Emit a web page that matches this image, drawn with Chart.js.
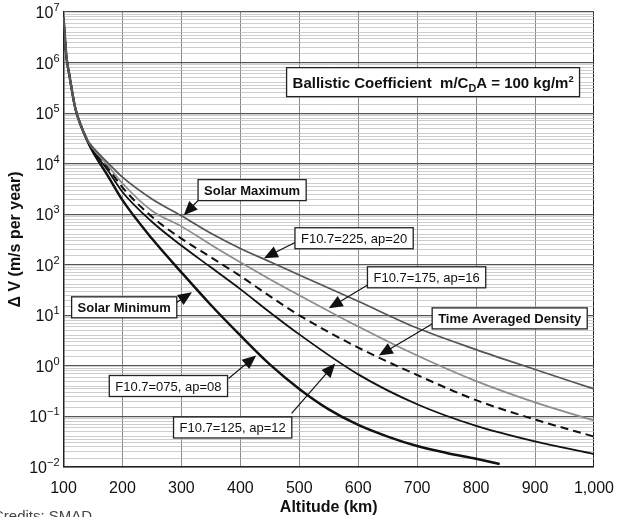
<!DOCTYPE html>
<html>
<head>
<meta charset="utf-8">
<script src="https://cdn.jsdelivr.net/npm/chart.js@4.4.0/dist/chart.umd.min.js"></script>
<style>
  html, body { margin: 0; padding: 0; background: #fff; overflow: hidden; }
  #wrap { position: relative; width: 626px; height: 517px; }
  #credits { position: absolute; left: -7px; top: 507px; font: 15px "Liberation Sans", Arial, sans-serif; color: #444; white-space: nowrap; }
</style>
</head>
<body>
<div id="wrap"><canvas id="c"></canvas><div id="credits">Credits: SMAD</div></div>
<script>
// altitude (km) and delta-V needed per year (m/s)
const altitudes = [100, 105, 110, 120, 130, 140, 150, 175, 200, 250, 300, 350, 400, 450, 500, 600, 700, 800, 900, 1000];
const solarMax225 = [7.9e6, 1.3e6, 5.6e5, 1.25e5, 5.5e4, 3.0e4, 2.1e4, 1.05e4, 5.4e3, 2.0e3, 930, 420, 210, 115, 63, 19, 5.6, 2.1, 0.85, 0.35];
const f175 = [7.9e6, 1.3e6, 5.6e5, 1.25e5, 5.5e4, 3.0e4, 2.0e4, 9.3e3, 4.1e3, 1.17e3, 575, 250, 112, 52, 25, 6.0, 1.6, 0.5, 0.19, 0.083];
const timeAveraged = [7.9e6, 1.3e6, 5.6e5, 1.25e5, 5.5e4, 3.0e4, 1.9e4, 8.4e3, 3.4e3, 890, 330, 141, 60, 24, 10, 2.3, 0.66, 0.21, 0.087, 0.04];
const f125 = [7.9e6, 1.3e6, 5.6e5, 1.25e5, 5.5e4, 2.95e4, 1.85e4, 7.4e3, 2.75e3, 710, 240, 89, 33, 11.5, 4.2, 0.68, 0.174, 0.065, 0.032, 0.018];
const altitudesLow = [100, 105, 110, 120, 130, 140, 150, 175, 200, 250, 300, 350, 400, 450, 500, 550, 600, 650, 700, 750, 800, 840];
const solarMin075 = [7.9e6, 1.3e6, 5.6e5, 1.25e5, 5.5e4, 2.9e4, 1.7e4, 5.8e3, 1.9e3, 330, 71, 16, 4.0, 1.07, 0.35, 0.138, 0.068, 0.040, 0.026, 0.019, 0.0145, 0.0115];

const xTicks = [100, 200, 300, 400, 500, 600, 700, 800, 900, 1000];
const yDecades = [1e-2, 1e-1, 1, 10, 100, 1e3, 1e4, 1e5, 1e6, 1e7];
const minorSteps = [1, 1.5, 2, 2.5, 3, 3.5, 4, 5, 6, 7, 8, 9];

const FONT = '"Liberation Sans", Arial, Helvetica, sans-serif';

const notes = [
  { parts: [{ t: 'Ballistic Coefficient  m/C' }, { t: 'D', s: 0.72, dy: 4 }, { t: 'A = 100 kg/m' }, { t: '2', s: 0.62, dy: -6 }],
    size: 15, bold: true, h: 29, at: [727, 4.1e5] },
  { parts: [{ t: 'Solar Maximum' }], bold: true, at: [420, 3.0e3], from: [329, 1.9e3], tip: [304, 955] },
  { parts: [{ t: 'F10.7=225, ap=20' }], at: [593, 335], from: [497, 292], tip: [440, 135] },
  { parts: [{ t: 'F10.7=175, ap=16' }], at: [716, 56.5], from: [618, 41], tip: [550, 13.8] },
  { parts: [{ t: 'Time Averaged Density' }], bold: true, at: [857, 8.7], from: [741, 8.7], tip: [635, 1.6] },
  { parts: [{ t: 'Solar Minimum' }], bold: true, at: [203, 14.4], from: [292, 18], tip: [318, 28.5] },
  { parts: [{ t: 'F10.7=075, ap=08' }], at: [278, 0.40], from: [380, 0.565], tip: [427, 1.6] },
  { parts: [{ t: 'F10.7=125, ap=12' }], at: [387, 0.0605], from: [487, 0.115], tip: [561, 1.12] }
];

function isDecade(v) {
  const l = Math.log10(v);
  return Math.abs(l - Math.round(l)) < 1e-6;
}

const gridTicks = [];
yDecades.forEach(d => {
  if (d === 1e7) { gridTicks.push(d); return; }
  minorSteps.forEach(m => gridTicks.push(m * d));
});

function pts(xs, ys) {
  return xs.map((a, i) => ({ x: a, y: ys[i] }));
}

const noteLayer = {
  id: 'noteLayer',
  afterDatasetsDraw(chart) {
    const { ctx, scales: { x, y } } = chart;
    const px = p => [x.getPixelForValue(p[0]), y.getPixelForValue(p[1])];
    ctx.save();
    notes.forEach(n => {
      if (n.tip) {
        const [x0, y0] = px(n.from), [x1, y1] = px(n.tip);
        const a = Math.atan2(y1 - y0, x1 - x0);
        const c = Math.cos(a), s = Math.sin(a);
        ctx.strokeStyle = '#111';
        ctx.lineWidth = 1.2;
        ctx.beginPath();
        ctx.moveTo(x0, y0);
        ctx.lineTo(x1 - 8 * c, y1 - 8 * s);
        ctx.stroke();
        ctx.fillStyle = '#111';
        ctx.beginPath();
        ctx.moveTo(x1, y1);
        ctx.lineTo(x1 - 14 * c + 6 * s, y1 - 14 * s - 6 * c);
        ctx.lineTo(x1 - 14 * c - 6 * s, y1 - 14 * s + 6 * c);
        ctx.closePath();
        ctx.fill();
      }
      const size = n.size || 13;
      const weight = n.bold ? 'bold ' : '';
      let total = 0;
      const widths = n.parts.map(p => {
        ctx.font = weight + (size * (p.s || 1)) + 'px ' + FONT;
        const w = ctx.measureText(p.t).width;
        total += w;
        return w;
      });
      const w = total + 12, h = n.h || size + 8;
      const [cx, cy] = px(n.at);
      ctx.fillStyle = '#fff';
      ctx.fillRect(cx - w / 2, cy - h / 2, w, h);
      ctx.strokeStyle = '#222';
      ctx.lineWidth = 1.3;
      ctx.strokeRect(cx - w / 2, cy - h / 2, w, h);
      ctx.fillStyle = '#111';
      ctx.textBaseline = 'alphabetic';
      ctx.textAlign = 'left';
      let tx = cx - total / 2;
      const base = cy + size * 0.36;
      n.parts.forEach((p, i) => {
        ctx.font = weight + (size * (p.s || 1)) + 'px ' + FONT;
        ctx.fillText(p.t, tx, base + (p.dy || 0));
        tx += widths[i];
      });
    });

    // decade labels 10^n on the y axis
    const minus = '\u2212';
    yDecades.forEach(d => {
      const e = Math.round(Math.log10(d));
      const yp = y.getPixelForValue(d);
      const right = x.left - 4;
      const es = (e < 0 ? minus : '') + Math.abs(e);
      ctx.font = '11px ' + FONT;
      const we = ctx.measureText(es).width;
      ctx.font = '16px ' + FONT;
      const wb = ctx.measureText('10').width;
      ctx.fillStyle = '#111';
      ctx.textAlign = 'left';
      ctx.textBaseline = 'alphabetic';
      ctx.fillText('10', right - we - wb, yp + 6);
      ctx.font = '11px ' + FONT;
      ctx.fillText(es, right - we, yp - 1);
    });
    ctx.restore();
  }
};

new Chart(document.getElementById('c'), {
  type: 'line',
  data: {
    datasets: [
      { label: 'F10.7=225, ap=20', data: pts(altitudes, solarMax225), borderColor: '#555', borderWidth: 1.7 },
      { label: 'F10.7=175, ap=16', data: pts(altitudes, f175), borderColor: '#8c8c8c', borderWidth: 1.7 },
      { label: 'Time Averaged Density', data: pts(altitudes, timeAveraged), borderColor: '#111', borderWidth: 2, borderDash: [8, 5] },
      { label: 'F10.7=125, ap=12', data: pts(altitudes, f125), borderColor: '#111', borderWidth: 1.8 },
      { label: 'F10.7=075, ap=08', data: pts(altitudesLow, solarMin075), borderColor: '#111', borderWidth: 2.5 }
    ]
  },
  options: {
    responsive: true,
    maintainAspectRatio: false,
    animation: false,
    layout: { padding: { left: 0, right: 27, top: 12, bottom: 0 } },
    elements: { point: { radius: 0 }, line: { cubicInterpolationMode: 'monotone', fill: false } },
    plugins: { legend: { display: false }, tooltip: { enabled: false } },
    scales: {
      x: {
        type: 'linear', min: 100, max: 1000,
        afterFit: s => { s.height = 50; },
        afterBuildTicks: s => { s.ticks = xTicks.map(v => ({ value: v })); },
        ticks: { padding: 12, color: '#111', font: { family: FONT, size: 16 },
                 callback: v => v.toLocaleString('en-US') },
        grid: { color: c => (c.tick && (c.tick.value === 100 || c.tick.value === 1000)) ? '#222' : '#8a8a8a',
                lineWidth: 1, drawTicks: false },
        border: { color: '#222', width: 1.5 },
        title: { display: true, text: 'Altitude (km)', color: '#111', font: { family: FONT, size: 16, weight: 'bold' },
                 padding: { top: 0, bottom: 0 } }
      },
      y: {
        type: 'logarithmic', min: 0.01, max: 1e7,
        afterFit: s => { s.width = 63.5; },
        afterBuildTicks: s => { s.ticks = gridTicks.map(v => ({ value: v })); },
        ticks: { autoSkip: false, padding: 4, callback: () => '' },
        grid: { color: c => (c.tick && isDecade(c.tick.value)) ? '#555' : '#b8b8b8',
                lineWidth: c => (c.tick && isDecade(c.tick.value)) ? 1.2 : 0.7, drawTicks: false },
        border: { color: '#222', width: 1.5 },
        title: { display: true, text: '\u0394 V (m/s per year)', color: '#111', font: { family: FONT, size: 16, weight: 'bold' },
                 padding: { top: 6, bottom: 0 } }
      }
    }
  },
  plugins: [noteLayer]
});
</script>
</body>
</html>
